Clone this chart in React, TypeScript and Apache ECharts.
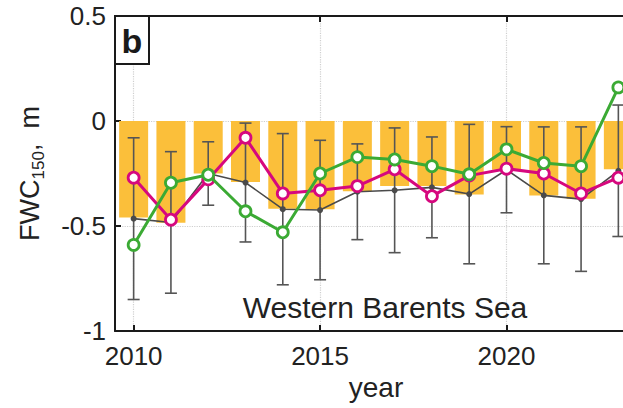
import React, { useEffect, useRef } from "react";
import * as echarts from "echarts";

const years = [2010, 2011, 2012, 2013, 2014, 2015, 2016, 2017, 2018, 2019, 2020, 2021, 2022, 2023];
const barValues = [-0.46, -0.485, -0.25, -0.29, -0.418, -0.42, -0.334, -0.31, -0.31, -0.35, -0.232, -0.355, -0.37, -0.23];
const meanValues = [-0.465, -0.483, -0.25, -0.293, -0.42, -0.424, -0.337, -0.33, -0.316, -0.348, -0.232, -0.354, -0.372, -0.237];
const stdValues = [0.385, 0.337, 0.151, 0.283, 0.36, 0.332, 0.228, 0.297, 0.24, 0.332, 0.205, 0.326, 0.344, 0.313];
const magentaValues = [-0.27, -0.47, -0.278, -0.08, -0.345, -0.33, -0.31, -0.23, -0.358, -0.26, -0.227, -0.25, -0.345, -0.27];
const greenValues = [-0.59, -0.294, -0.256, -0.43, -0.53, -0.25, -0.172, -0.183, -0.215, -0.254, -0.135, -0.2, -0.215, 0.16];
const xTickYears = [2010, 2015, 2020];
const panelLabel = "b";
const regionLabel = "Western Barents Sea";

const FONT = "'Liberation Sans', Arial, Helvetica, sans-serif";
const AX = "#1a1a1a";

export default function App() {
  const ref = useRef<HTMLDivElement>(null);
  useEffect(() => {
    const chart = echarts.init(ref.current!, null, { renderer: "svg" });
    const pair = (vals: number[]) => years.map((y, i) => [y, vals[i]]);
    const xBase = {
      type: "value" as const,
      min: 2009.5,
      max: 2023.5,
      axisLine: { show: true, onZero: false, lineStyle: { color: AX, width: 2 } },
      axisTick: { show: true, inside: true, length: 6, customValues: xTickYears, lineStyle: { color: AX, width: 2 } },
      splitLine: { show: false },
    };
    chart.setOption({
      animation: false,
      backgroundColor: "#fff",
      grid: { left: 115, right: 63, top: 16, bottom: 77, containLabel: false },
      xAxis: [
        {
          ...xBase,
          position: "bottom",
          name: "year",
          nameLocation: "middle",
          nameGap: 40,
          nameTextStyle: { fontFamily: FONT, fontSize: 28, color: "#222" },
          axisLabel: {
            customValues: xTickYears,
            fontFamily: FONT,
            fontSize: 26,
            color: "#222",
            margin: 12,
            formatter: (v: number) => String(v),
          },
          splitLine: { show: true, lineStyle: { color: "#cfcfcf", type: "dotted", width: 1.2 } },
        },
        {
          ...xBase,
          position: "top",
          axisLabel: { show: false },
        },
      ],
      yAxis: [
        {
          type: "value",
          min: -1,
          max: 0.5,
          interval: 0.5,
          position: "left",
          name: "{a|FWC}{s|150}{a|,  m}",
          nameLocation: "middle",
          nameGap: 72,
          nameTextStyle: {
            rich: {
              a: { fontFamily: FONT, fontSize: 27, color: "#222", lineHeight: 32, verticalAlign: "bottom" },
              s: { fontFamily: FONT, fontSize: 17, color: "#222", lineHeight: 32, verticalAlign: "bottom", padding: [0, 0, -4, 0] },
            },
          },
          axisLine: { show: true, onZero: false, lineStyle: { color: AX, width: 2 } },
          axisTick: { show: true, inside: true, length: 6, lineStyle: { color: AX, width: 2 } },
          axisLabel: { fontFamily: FONT, fontSize: 26, color: "#222", margin: 9 },
          splitLine: { show: true, lineStyle: { color: "#cfcfcf", type: "dotted", width: 1.2 } },
        },
        {
          type: "value",
          min: -1,
          max: 0.5,
          interval: 0.5,
          position: "right",
          axisLine: { show: true, onZero: false, lineStyle: { color: AX, width: 2 } },
          axisTick: { show: true, inside: true, length: 6, lineStyle: { color: AX, width: 2 } },
          axisLabel: { show: false },
          splitLine: { show: false },
        },
      ],
      series: [
        {
          type: "bar",
          data: pair(barValues),
          barWidth: 29,
          itemStyle: { color: "#FBBF3A" },
          z: 1,
        },
        {
          type: "custom",
          z: 2,
          data: years.map((y, i) => [y, meanValues[i] - stdValues[i], meanValues[i] + stdValues[i]]),
          encode: { x: 0, y: [1, 2] },
          renderItem: (params: any, api: any) => {
            const x = api.value(0);
            const lo = api.coord([x, api.value(1)]);
            const hi = api.coord([x, api.value(2)]);
            const hw = 6;
            const st = { stroke: "#555", lineWidth: 1.6 };
            return {
              type: "group",
              children: [
                { type: "line", shape: { x1: lo[0], y1: lo[1], x2: hi[0], y2: hi[1] }, style: st },
                { type: "line", shape: { x1: lo[0] - hw, y1: lo[1], x2: lo[0] + hw, y2: lo[1] }, style: st },
                { type: "line", shape: { x1: hi[0] - hw, y1: hi[1], x2: hi[0] + hw, y2: hi[1] }, style: st },
              ],
            };
          },
        },
        {
          type: "line",
          data: pair(meanValues),
          z: 3,
          symbol: "circle",
          symbolSize: 6,
          lineStyle: { color: "#4a4a4a", width: 1.6 },
          itemStyle: { color: "#4a4a4a", borderWidth: 0 },
        },
        {
          type: "line",
          data: pair(magentaValues),
          z: 4,
          symbol: "circle",
          symbolSize: 11,
          showAllSymbol: true,
          lineStyle: { color: "#D6087E", width: 3 },
          itemStyle: { color: "#fff", borderColor: "#D6087E", borderWidth: 2.8 },
        },
        {
          type: "line",
          data: pair(greenValues),
          z: 5,
          symbol: "circle",
          symbolSize: 11,
          showAllSymbol: true,
          lineStyle: { color: "#3BAA34", width: 3 },
          itemStyle: { color: "#fff", borderColor: "#3BAA34", borderWidth: 2.8 },
        },
      ],
      graphic: [
        {
          type: "rect",
          z: 10,
          shape: { x: 115, y: 16, width: 34, height: 48 },
          style: { fill: "#fff", stroke: AX, lineWidth: 2 },
        },
        {
          type: "text",
          z: 11,
          x: 132,
          y: 41,
          style: {
            text: panelLabel,
            fontFamily: FONT,
            fontWeight: "bold",
            fontSize: 34,
            fill: "#1a1a1a",
            align: "center",
            verticalAlign: "middle",
          },
        },
        {
          type: "text",
          z: 11,
          x: 385,
          y: 307,
          style: {
            text: regionLabel,
            fontFamily: FONT,
            fontSize: 30,
            fill: "#222",
            align: "center",
            verticalAlign: "middle",
          },
        },
      ],
    });
    return () => chart.dispose();
  }, []);
  return (
    <div style={{ position: "fixed", left: 0, top: 0, width: 623, height: 408, overflow: "hidden", background: "#fff" }}>
      <div ref={ref} style={{ width: 700, height: 408 }} />
    </div>
  );
}
